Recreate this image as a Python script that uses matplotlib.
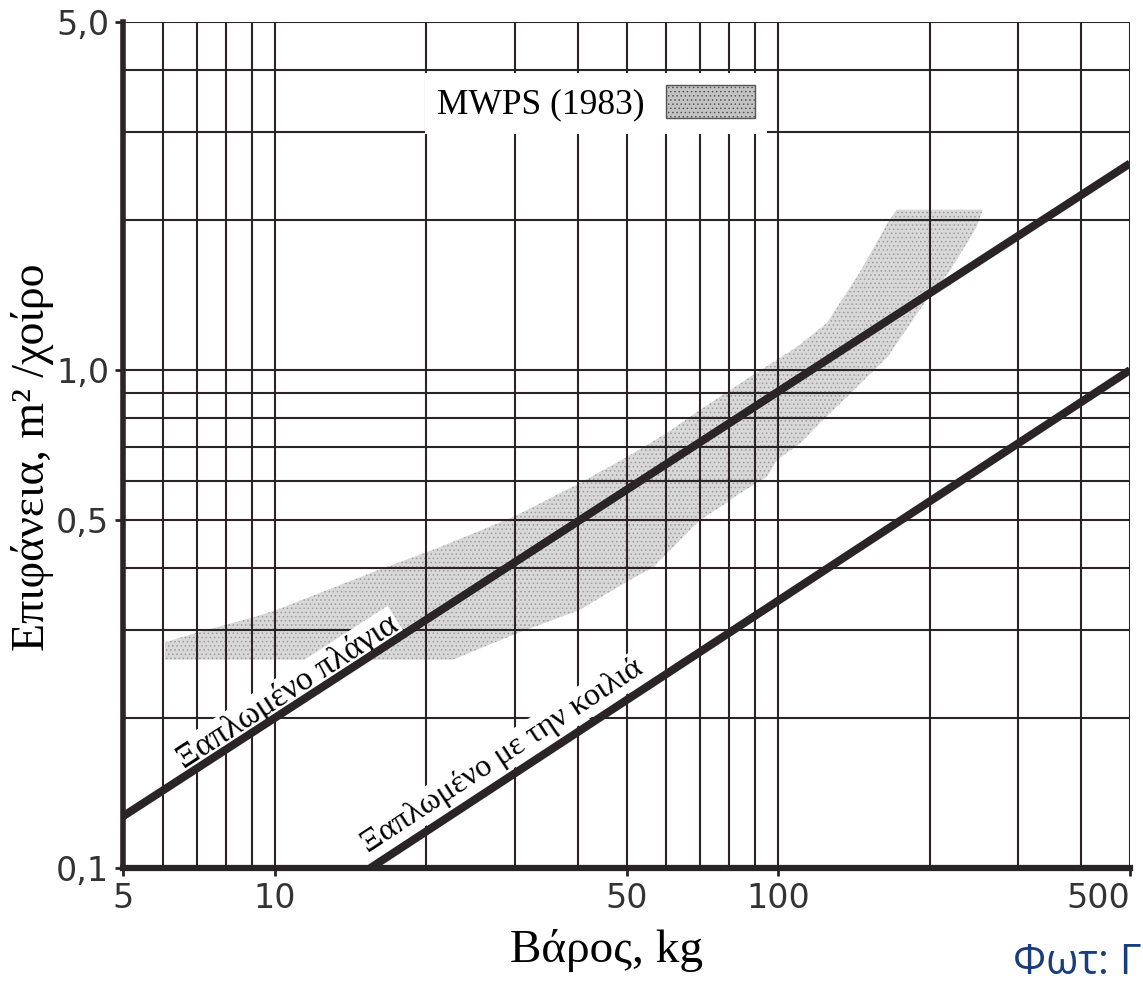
import numpy as np
import matplotlib
matplotlib.use("Agg")
import matplotlib.pyplot as plt
from matplotlib.patches import Patch

# weight (kg) / area (m2 per pig) data
side_w = [5, 500]            # "Ξαπλωμένο πλάγια" line
side_a = [0.127, 2.6]
belly_w = [15.5, 500]        # "Ξαπλωμένο με την κοιλιά" line
belly_a = [0.1, 1.0]

# MWPS (1983) band, upper edge left->right then lower edge right->left
band_top_w = [6.06, 7.1, 8.0, 9.1, 10.1, 15.7, 21.3, 29.8, 40.4, 50.1, 60.2, 70.0,
              88.0, 99.5, 109, 125, 145, 165, 172, 255]
band_top_a = [0.284, 0.298, 0.308, 0.319, 0.330, 0.393, 0.441, 0.507, 0.593, 0.669,
              0.748, 0.832, 0.969, 1.048, 1.113, 1.243, 1.566, 1.974, 2.10, 2.10]
band_low_w = [248, 220, 194, 165, 137, 121, 111, 99.5, 95, 84, 79, 70.0, 60.2,
              56.5, 50.8, 40.4, 30.3, 22.6, 6.06]
band_low_a = [1.938, 1.589, 1.351, 1.063, 0.883, 0.783, 0.714, 0.660, 0.610, 0.566,
              0.541, 0.5, 0.429, 0.402, 0.379, 0.330, 0.296, 0.262, 0.262]

x_ticks = [5, 10, 50, 100, 500]
x_labels = ["5", "10", "50", "100", "500"]
y_ticks = [0.1, 0.5, 1.0, 5.0]
y_labels = ["0,1", "0,5", "1,0", "5,0"]

ink = "#2b2426"
serif = ["Liberation Serif", "DejaVu Serif"]
plt.rcParams["hatch.linewidth"] = 0.6

fig = plt.figure(figsize=(11.43, 9.91), dpi=100)
ax = fig.add_axes([123 / 1143, 1 - 868 / 991, 1007 / 1143, 846 / 991])
ax.set_xscale("log")
ax.set_yscale("log")
ax.set_xlim(5, 500)
ax.set_ylim(0.1, 5.0)

# log paper grid, drawn above the band
x_grid = np.concatenate([np.arange(6, 10), np.arange(10, 100, 10), np.arange(100, 501, 100)])
y_grid = np.concatenate([np.arange(0.2, 1.0, 0.1), np.arange(1, 6, 1)])
for gx in x_grid:
    ax.axvline(gx, color=ink, lw=1.5, zorder=3)
for gy in y_grid:
    ax.axhline(gy, color=ink, lw=1.5, zorder=3)

# band
ax.fill(band_top_w + band_low_w, band_top_a + band_low_a,
        facecolor="#d8d8d8", edgecolor="#9c9c9c", hatch="....", lw=0, zorder=2)

# the two lines
ax.plot(side_w, side_a, color=ink, lw=5.8, solid_capstyle="butt", zorder=6)
ax.plot(belly_w, belly_a, color=ink, lw=5.8, solid_capstyle="butt", zorder=6)

# labels along the lines
fig.canvas.draw()
def line_angle(w, a):
    p = ax.transData.transform(np.column_stack([w, a]))
    return np.degrees(np.arctan2(p[1, 1] - p[0, 1], p[1, 0] - p[0, 0]))

box = dict(facecolor="white", edgecolor="none", pad=1.5)
ax.text(10.6, 0.226, "Ξαπλωμένο πλάγια", rotation=line_angle(side_w, side_a),
        ha="center", va="center", rotation_mode="anchor", fontsize=24,
        family=serif, bbox=box, zorder=4)
ax.text(28.3, 0.168, "Ξαπλωμένο με την κοιλιά", rotation=line_angle(belly_w, belly_a),
        ha="center", va="center", rotation_mode="anchor", fontsize=23,
        family=serif, bbox=box, zorder=4)

# legend: text then swatch
leg = ax.legend(handles=[Patch(facecolor="#c4c4c4", edgecolor="#555555", lw=1,
                               hatch="....")],
                labels=["MWPS (1983)"], loc="upper left", bbox_to_anchor=(0.30, 0.94),
                markerfirst=False, frameon=True, fancybox=False,
                handlelength=2.5, handleheight=1.05, handletextpad=0.6,
                borderpad=0.35, borderaxespad=0, prop={"family": serif, "size": 25.5})
leg.get_frame().set_facecolor("white")
leg.get_frame().set_edgecolor("none")
leg.get_frame().set_alpha(1)
leg.set_zorder(5)

# axes styling
for s in ["top", "right"]:
    ax.spines[s].set_visible(False)
ax.spines["left"].set_linewidth(4)
ax.spines["bottom"].set_linewidth(4.5)
ax.spines["left"].set_color(ink)
ax.spines["bottom"].set_color(ink)
ax.spines["left"].set_zorder(7)
ax.spines["bottom"].set_zorder(7)

ax.set_xticks(x_ticks)
ax.set_xticklabels(x_labels)
ax.set_yticks(y_ticks)
ax.set_yticklabels(y_labels)
ax.minorticks_off()
ax.tick_params(axis="both", length=6, width=2, color=ink, labelsize=24,
               labelcolor="#333333", pad=4)
ax.get_xticklabels()[-1].set_horizontalalignment("right")

ax.set_xlabel("Βάρος, kg", family=serif, fontsize=34, va="center")
ax.set_ylabel("Επιφάνεια, m\u00b2 /χοίρο", family=serif, fontsize=33, va="center")
ax.xaxis.set_label_coords(0.48, -0.097)
ax.yaxis.set_label_coords(-0.09, 0.486)

fig.text(1013 / 1143, 1 - 963 / 991, "Φωτ: Γ", color="#1a3d7c", fontsize=30,
         family=["Open Sans", "DejaVu Sans"], ha="left", va="center")

fig.savefig("out.png", dpi=100)
